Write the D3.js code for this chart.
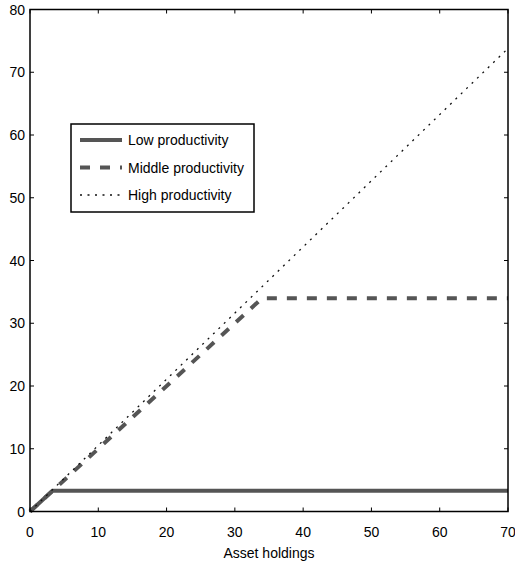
<!DOCTYPE html>
<html>
<head>
<meta charset="utf-8">
<script src="https://cdn.jsdelivr.net/npm/d3@7"></script>
<style>
  body { margin: 0; background: #fff; }
  text { font-family: "Liberation Sans", Arial, sans-serif; }
</style>
</head>
<body>
<div id="chart"></div>
<script>
// series
var lowX = [0, 3.3, 70];
var lowY = [0, 3.3, 3.3];
var midX = [0, 34, 70];
var midY = [0, 34, 34];
var highX = [0, 70];
var highY = [0, 73.8];

var xTicks = [0, 10, 20, 30, 40, 50, 60, 70];
var yTicks = [0, 10, 20, 30, 40, 50, 60, 70, 80];
var seriesNames = ["Low productivity", "Middle productivity", "High productivity"];

var w = 515, h = 564;
var plotL = 30, plotR = 508, plotT = 9.5, plotB = 511.5;

var x = d3.scaleLinear().domain([0, 70]).range([plotL, plotR]);
var y = d3.scaleLinear().domain([0, 80]).range([plotB, plotT]);

var svg = d3.select("#chart")
  .append("svg")
  .attr("width", w)
  .attr("height", h);

// styles for each series
var styles = [
  { stroke: "#555", width: 4, dash: null },
  { stroke: "#555", width: 4, dash: "10,10" },
  { stroke: "#111", width: 1.3, dash: "2,5.5" }
];

var series = [
  d3.zip(lowX, lowY),
  d3.zip(midX, midY),
  d3.zip(highX, highY)
];

var line = d3.line()
  .x(function(d) { return x(d[0]); })
  .y(function(d) { return y(d[1]); });

// axis ticks, inward, mirrored on all four sides
var tickLen = 4;
var axisG = svg.append("g").attr("stroke", "#000").attr("stroke-width", 1);
xTicks.forEach(function(t) {
  axisG.append("line").attr("x1", x(t)).attr("x2", x(t)).attr("y1", plotB).attr("y2", plotB - tickLen);
  axisG.append("line").attr("x1", x(t)).attr("x2", x(t)).attr("y1", plotT).attr("y2", plotT + tickLen);
});
yTicks.forEach(function(t) {
  axisG.append("line").attr("x1", plotL).attr("x2", plotL + tickLen).attr("y1", y(t)).attr("y2", y(t));
  axisG.append("line").attr("x1", plotR).attr("x2", plotR - tickLen).attr("y1", y(t)).attr("y2", y(t));
});

// lines
series.forEach(function(s, i) {
  svg.append("path")
    .datum(s)
    .attr("d", line)
    .attr("fill", "none")
    .attr("stroke", styles[i].stroke)
    .attr("stroke-width", styles[i].width)
    .attr("stroke-dasharray", styles[i].dash);
});

// frame
svg.append("rect")
  .attr("x", plotL)
  .attr("y", plotT)
  .attr("width", plotR - plotL)
  .attr("height", plotB - plotT)
  .attr("fill", "none")
  .attr("stroke", "#000")
  .attr("stroke-width", 1.5);

// tick labels
svg.append("g")
  .selectAll("text")
  .data(xTicks)
  .enter()
  .append("text")
  .attr("x", function(d) { return x(d); })
  .attr("y", 536.5)
  .attr("text-anchor", "middle")
  .style("font-size", "14px")
  .text(function(d) { return d; });

svg.append("g")
  .selectAll("text")
  .data(yTicks)
  .enter()
  .append("text")
  .attr("x", 25)
  .attr("y", function(d) { return y(d) + 5; })
  .attr("text-anchor", "end")
  .style("font-size", "14px")
  .text(function(d) { return d; });

svg.append("text")
  .attr("x", x(35))
  .attr("y", 557.5)
  .attr("text-anchor", "middle")
  .style("font-size", "14px")
  .text("Asset holdings");

// legend
var legend = svg.append("g");
legend.append("rect")
  .attr("x", 71)
  .attr("y", 124)
  .attr("width", 183)
  .attr("height", 88)
  .attr("fill", "#fff")
  .attr("stroke", "#000")
  .attr("stroke-width", 1.5);

var rowY = [140, 167.5, 195];
seriesNames.forEach(function(name, i) {
  legend.append("line")
    .attr("x1", 80)
    .attr("x2", 122)
    .attr("y1", rowY[i])
    .attr("y2", rowY[i])
    .attr("stroke", styles[i].stroke)
    .attr("stroke-width", styles[i].width)
    .attr("stroke-dasharray", styles[i].dash);
  legend.append("text")
    .attr("x", 128)
    .attr("y", rowY[i] + 5)
    .style("font-size", "14px")
    .text(name);
});
</script>
</body>
</html>
